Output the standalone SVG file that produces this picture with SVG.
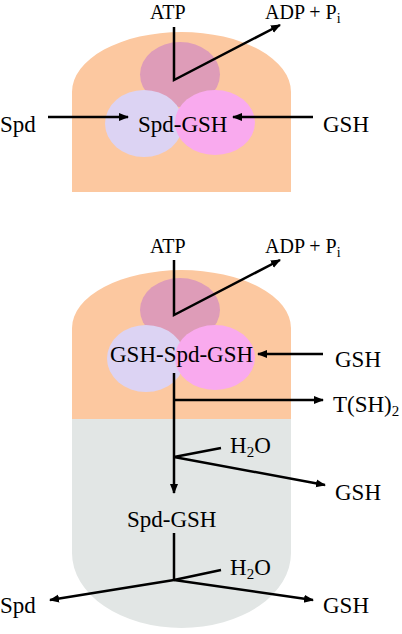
<svg xmlns="http://www.w3.org/2000/svg" width="402" height="634" viewBox="0 0 402 634">
<defs>
<style>
.ln{fill:none;stroke:#000;stroke-width:2.5}
.org{fill:#FCC8A0}
.gry{fill:#E2E6E5}
.c1{fill:#DE9CB8}
.c2{fill:#DCD3F3}
.c3{fill:#F9AAEE}
.t{font-family:'Liberation Serif','DejaVu Serif',serif;font-size:23px;fill:#000}
.s{font-size:20px}
</style>
<marker id="ah" viewBox="0 0 10 10" refX="9" refY="5" markerWidth="4" markerHeight="4" orient="auto" markerUnits="strokeWidth">
<path d="M0,1 L10,5 L0,9 z" fill="#000"/>
</marker>
</defs>
<g id="enzyme1">
<path class="org" d="M72,192 V92 A109.5,60 0 0 1 291,92 V192 Z"/>
<ellipse class="c1" cx="180" cy="74.5" rx="40" ry="32.5"/>
<ellipse class="c2" cx="144" cy="123.5" rx="39" ry="33.5"/>
<ellipse class="c3" cx="215" cy="122.5" rx="40" ry="32.5"/>
</g>
<g id="enzyme2">
<path class="gry" d="M72,418 V553 A109.5,75 0 0 0 291,553 V418 Z"/>
<path class="org" d="M72,419 V328 A109.5,58 0 0 1 291,328 V419 Z"/>
<ellipse class="c1" cx="180" cy="310" rx="40" ry="32"/>
<ellipse class="c2" cx="146" cy="358.5" rx="39" ry="33.5"/>
<ellipse class="c3" cx="215" cy="357.5" rx="40" ry="32.5"/>
</g>
<g id="labels" class="t">
<text x="150" y="19" class="t s">ATP</text>
<text x="265" y="19" class="t s">ADP + P<tspan font-size="14" dy="4">i</tspan></text>
<text x="0" y="132" class="t">Spd</text>
<text x="138" y="132" class="t">Spd-GSH</text>
<text x="323" y="132" class="t">GSH</text>
<text x="150" y="253" class="t s">ATP</text>
<text x="265" y="253" class="t s">ADP + P<tspan font-size="14" dy="4">i</tspan></text>
<text x="110" y="362" class="t">GSH-Spd-GSH</text>
<text x="335" y="367" class="t">GSH</text>
<text x="333" y="412" class="t">T(SH)<tspan font-size="15" dy="4">2</tspan></text>
<text x="230" y="453" class="t">H<tspan font-size="15" dy="4">2</tspan><tspan dy="-4">O</tspan></text>
<text x="335" y="500" class="t">GSH</text>
<text x="127" y="527" class="t">Spd-GSH</text>
<text x="230" y="575" class="t">H<tspan font-size="15" dy="4">2</tspan><tspan dy="-4">O</tspan></text>
<text x="0" y="613" class="t">Spd</text>
<text x="323" y="613" class="t">GSH</text>
</g>
<g id="connectors">
<path class="ln" d="M174,27 V80 L280,25" marker-end="url(#ah)"/>
<path class="ln" d="M48,117 H128" marker-end="url(#ah)"/>
<path class="ln" d="M313,117 H233" marker-end="url(#ah)"/>
<path class="ln" d="M174,260 V315 L280,260" marker-end="url(#ah)"/>
<path class="ln" d="M323,354 H258" marker-end="url(#ah)"/>
<path class="ln" d="M174,373 V493" marker-end="url(#ah)"/>
<path class="ln" d="M174,400 H323" marker-end="url(#ah)"/>
<path class="ln" d="M221,448 L174,457 L325,485" marker-end="url(#ah)"/>
<path class="ln" d="M174,533 V580"/>
<path class="ln" d="M221,570 L174,580"/>
<path class="ln" d="M174,580 L50,600" marker-end="url(#ah)"/>
<path class="ln" d="M174,580 L313,600" marker-end="url(#ah)"/>
</g>
</svg>
